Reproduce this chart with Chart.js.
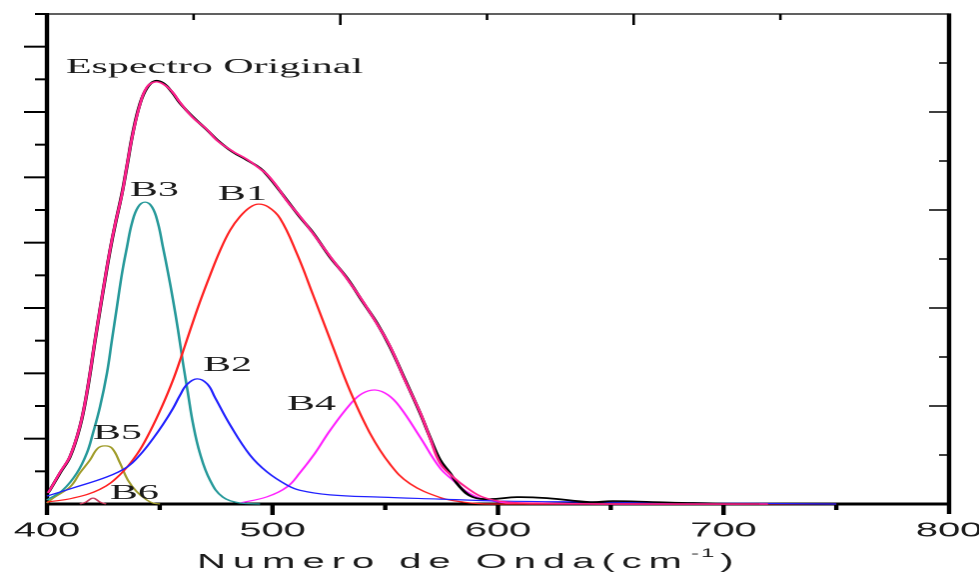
<!DOCTYPE html>
<html>
<head>
<meta charset="utf-8">
<title>Espectro Original</title>
<script src="https://cdn.jsdelivr.net/npm/chart.js@4.4.1/dist/chart.umd.min.js"></script>
<style>
  html, body { margin: 0; padding: 0; background: #fff; overflow: hidden; }
  /* the plot is laid out on a half-width canvas and widened 2x */
  #wrap { position: absolute; left: 0; top: 0; width: 490px; height: 573px;
          transform: scaleX(1.99796); transform-origin: 0 0; }
</style>
</head>
<body>
<div id="wrap"><canvas id="c"></canvas></div>
<script>
// ---- data: wavenumber (cm-1) and intensity for each curve ----
const xTickValues = [400, 500, 600, 700, 800];
const xTickLabels = ['400', '500', '600', '700', '800'];

const originalWn = [400.4, 401.3, 405.8, 410.2, 414.6, 417.7, 421.3, 423.5, 425.7, 427.9, 430.2, 433.3, 435.5, 438.1, 441.2, 444.3, 447.9, 451.4, 455.4, 459.0, 464.7, 471.0, 475.4, 482.5, 488.7, 494.5, 497.6, 502.0, 506.4, 512.2, 518.0, 525.5, 533.0, 540.1, 546.3, 552.1, 558.8, 565.4, 569.8, 574.3, 578.7, 583.1, 588.9, 596.5, 608.4, 621.7, 640.8, 651.0, 668.7, 686.5, 716.0];
const originalY  = [0.034, 0.043, 0.095, 0.144, 0.236, 0.340, 0.499, 0.594, 0.686, 0.774, 0.854, 0.952, 1.035, 1.136, 1.224, 1.273, 1.295, 1.289, 1.261, 1.227, 1.185, 1.145, 1.115, 1.077, 1.053, 1.028, 1.007, 0.970, 0.930, 0.878, 0.830, 0.756, 0.692, 0.618, 0.554, 0.481, 0.380, 0.279, 0.205, 0.135, 0.095, 0.052, 0.021, 0.015, 0.021, 0.018, 0.006, 0.009, 0.006, 0.003, 0.000];

const fitWn = [400.4, 401.3, 405.8, 410.2, 414.6, 417.7, 421.3, 423.5, 425.7, 427.9, 430.2, 433.3, 435.5, 438.1, 441.2, 444.3, 447.9, 451.4, 455.4, 459.0, 464.7, 471.0, 475.4, 482.5, 488.7, 494.5, 497.6, 502.0, 506.4, 512.2, 518.0, 525.5, 533.0, 540.1, 546.3, 552.1, 558.8, 565.4, 569.8, 574.3, 580.0, 586.3, 593.3, 604.0, 615.5, 645.0, 719.7];
const fitY  = [0.034, 0.043, 0.097, 0.146, 0.238, 0.342, 0.501, 0.596, 0.688, 0.776, 0.856, 0.950, 1.037, 1.134, 1.222, 1.276, 1.292, 1.286, 1.263, 1.229, 1.183, 1.146, 1.113, 1.079, 1.055, 1.026, 1.009, 0.972, 0.928, 0.880, 0.828, 0.758, 0.690, 0.620, 0.552, 0.483, 0.378, 0.281, 0.203, 0.125, 0.083, 0.049, 0.021, 0.006, 0.003, 0.000, 0.000];

const b1Wn = [400.0, 411.5, 423.5, 432.4, 439.9, 445.7, 451.4, 455.9, 459.0, 463.4, 467.8, 472.3, 476.7, 481.2, 485.6, 490.0, 493.6, 498.0, 503.3, 510.9, 518.0, 526.8, 534.4, 543.2, 552.1, 561.0, 574.3, 584.5, 596.5, 750.0];
const b1Y  = [0.006, 0.018, 0.045, 0.090, 0.152, 0.222, 0.305, 0.380, 0.440, 0.530, 0.618, 0.700, 0.775, 0.838, 0.880, 0.908, 0.918, 0.910, 0.875, 0.765, 0.640, 0.481, 0.346, 0.217, 0.122, 0.062, 0.020, 0.006, 0.000, 0.000];

const b2Wn = [400.0, 411.5, 426.6, 435.5, 441.2, 447.0, 451.4, 455.9, 459.0, 462.1, 466.5, 471.0, 474.5, 481.2, 490.0, 497.6, 506.4, 512.2, 525.5, 547.7, 574.3, 600.9, 645.2, 689.6, 750.0];
const b2Y  = [0.024, 0.049, 0.083, 0.113, 0.150, 0.200, 0.243, 0.293, 0.333, 0.366, 0.383, 0.368, 0.326, 0.242, 0.150, 0.098, 0.058, 0.042, 0.028, 0.021, 0.015, 0.009, 0.006, 0.003, 0.000];

const b3Wn = [400.0, 407.1, 413.3, 417.7, 420.4, 423.5, 426.6, 428.8, 431.0, 433.3, 435.5, 437.7, 440.4, 443.5, 446.6, 449.2, 451.4, 453.7, 455.9, 458.1, 460.3, 462.5, 464.7, 467.8, 472.3, 478.0, 485.6, 494.5];
const b3Y  = [0.012, 0.043, 0.095, 0.156, 0.217, 0.297, 0.401, 0.502, 0.603, 0.707, 0.787, 0.860, 0.909, 0.924, 0.909, 0.860, 0.787, 0.707, 0.624, 0.533, 0.432, 0.340, 0.248, 0.156, 0.073, 0.021, 0.003, 0.000];

const b4Wn = [485.6, 497.6, 506.4, 512.2, 518.8, 525.5, 534.4, 539.7, 545.5, 551.2, 556.5, 565.4, 574.3, 580.0, 586.3, 593.3, 604.0, 614.2, 719.7];
const b4Y  = [0.003, 0.022, 0.052, 0.096, 0.155, 0.225, 0.305, 0.338, 0.349, 0.334, 0.297, 0.205, 0.110, 0.073, 0.037, 0.015, 0.003, 0.000, 0.000];

const b5Wn = [400.0, 402.7, 410.2, 414.6, 419.1, 422.6, 425.7, 428.8, 432.4, 435.9, 439.9, 444.3, 447.0, 450.1];
const b5Y  = [0.003, 0.018, 0.052, 0.095, 0.135, 0.171, 0.178, 0.171, 0.125, 0.073, 0.037, 0.012, 0.003, 0.000];

const b6Wn = [414.6, 417.3, 420.4, 423.5, 426.2];
const b6Y  = [0.000, 0.006, 0.018, 0.006, 0.000];

// ---- chart ----
const pairs = (xs, ys) => xs.map((x, i) => ({ x: x, y: ys[i] }));

function curve(label, xs, ys, color, width, order) {
  return {
    label: label,
    data: pairs(xs, ys),
    borderColor: color,
    borderWidth: width,
    pointRadius: 0,
    fill: false,
    tension: 0.4,
    clip: 6,
    order: order
  };
}

const datasets = [
  curve('Ajuste', fitWn, fitY, '#ff1f8c', 1.4, 0),
  curve('Espectro Original', originalWn, originalY, '#000000', 1.7, 1),
  curve('B1', b1Wn, b1Y, '#ff2121', 1.2, 3),
  curve('B2', b2Wn, b2Y, '#2020ff', 1.2, 2),
  curve('B3', b3Wn, b3Y, '#26999a', 1.3, 4),
  curve('B4', b4Wn, b4Y, '#ff20ff', 1.2, 5),
  curve('B5', b5Wn, b5Y, '#a09c2a', 1.2, 6),
  curve('B6', b6Wn, b6Y, '#c83a5c', 1.2, 7)
];

// text placed in data space (wavenumber, intensity), left/baseline anchored
const curveNotes = [
  { text: 'Espectro Original', x: 408.4, y: 1.319 },
  { text: 'B3', x: 436.8, y: 0.943 },
  { text: 'B1', x: 475.8, y: 0.930 },
  { text: 'B2', x: 469.2, y: 0.407 },
  { text: 'B4', x: 506.4, y: 0.288 },
  { text: 'B5', x: 420.4, y: 0.199 },
  { text: 'B6', x: 427.9, y: 0.015 }
];

const framePlugin = {
  id: 'frame',
  beforeDatasetsDraw(chart) {
    const { ctx, chartArea: a, scales } = chart;
    const x = scales.x, y = scales.y, yR = scales.yR, xTop = scales.xTop;
    ctx.save();
    ctx.strokeStyle = '#000';
    ctx.lineCap = 'butt';

    // top border with inward ticks
    ctx.lineWidth = 1.3;
    ctx.beginPath(); ctx.moveTo(a.left - 6, a.top); ctx.lineTo(a.right, a.top); ctx.stroke();
    for (let k = 1; k <= 5; k++) {
      const px = xTop.getPixelForValue(k);
      const len = k % 2 === 0 ? 11 : 6;
      ctx.beginPath(); ctx.moveTo(px, a.top); ctx.lineTo(px, a.top + len); ctx.stroke();
    }

    // left axis with outward ticks
    ctx.lineWidth = 2.2;
    ctx.beginPath(); ctx.moveTo(a.left, a.top - 1); ctx.lineTo(a.left, a.bottom + 11); ctx.stroke();
    ctx.lineWidth = 2;
    for (let k = 1; k <= 15; k++) {
      const py = y.getPixelForValue(k / 10);
      const len = k % 2 === 0 ? 11.5 : 6;
      ctx.beginPath(); ctx.moveTo(a.left - len, py); ctx.lineTo(a.left, py); ctx.stroke();
    }

    // right axis with inward ticks
    ctx.lineWidth = 2.2;
    ctx.beginPath(); ctx.moveTo(a.right, a.top - 0.6); ctx.lineTo(a.right, a.bottom + 10); ctx.stroke();
    ctx.lineWidth = 1.5;
    for (let k = 1; k <= 9; k++) {
      const py = yR.getPixelForValue(k);
      const len = k % 2 === 0 ? 10 : 5;
      ctx.beginPath(); ctx.moveTo(a.right - len, py); ctx.lineTo(a.right, py); ctx.stroke();
    }

    // bottom axis with outward ticks
    ctx.lineWidth = 3;
    ctx.beginPath(); ctx.moveTo(a.left, a.bottom); ctx.lineTo(a.right, a.bottom); ctx.stroke();
    ctx.lineWidth = 2.2;
    for (let v = 450; v < 800; v += 50) {
      const px = x.getPixelForValue(v);
      const len = v % 100 === 0 ? 11 : 6;
      ctx.beginPath(); ctx.moveTo(px, a.bottom); ctx.lineTo(px, a.bottom + len); ctx.stroke();
    }
    ctx.restore();
  },
  afterDatasetsDraw(chart) {
    const { ctx, scales } = chart;
    const x = scales.x, y = scales.y;
    ctx.save();
    ctx.fillStyle = '#1b1b1b';
    ctx.textAlign = 'left';
    ctx.textBaseline = 'alphabetic';
    ctx.font = '21px "Liberation Serif", "Times New Roman", serif';
    curveNotes.forEach(n => {
      ctx.fillText(n.text, x.getPixelForValue(n.x), y.getPixelForValue(n.y));
    });

    // axis title with a superscript exponent
    const main = 'Numero de Onda(cm';
    const base = 568;
    let px = 98.6;
    ctx.font = '20px "Liberation Sans", Arial, sans-serif';
    if ('letterSpacing' in ctx) ctx.letterSpacing = '3.5px';
    ctx.fillText(main, px, base);
    px += ctx.measureText(main).width + 1;
    ctx.font = '12px "Liberation Sans", Arial, sans-serif';
    if ('letterSpacing' in ctx) ctx.letterSpacing = '1px';
    ctx.fillText('-1', px, base - 11);
    px += ctx.measureText('-1').width + 2;
    ctx.font = '20px "Liberation Sans", Arial, sans-serif';
    ctx.fillText(')', px, base);
    ctx.restore();
  }
};

new Chart(document.getElementById('c'), {
  type: 'line',
  data: { datasets: datasets },
  options: {
    responsive: true,
    maintainAspectRatio: false,
    animation: false,
    devicePixelRatio: 2,
    layout: { padding: { left: 23.5, right: 15, top: 14, bottom: 0 } },
    plugins: { legend: { display: false }, tooltip: { enabled: false } },
    scales: {
      x: {
        type: 'linear', min: 400, max: 800, position: 'bottom',
        afterBuildTicks: s => { s.ticks = xTickValues.map(v => ({ value: v })); },
        afterFit: s => { s.height = 69; s.paddingLeft = 0; s.paddingRight = 0; },
        grid: { display: false, drawTicks: false },
        border: { display: false },
        ticks: {
          padding: 15, color: '#1b1b1b', maxRotation: 0, autoSkip: false,
          font: { family: '"Liberation Sans", Arial, sans-serif', size: 20 },
          callback: (v, i) => xTickLabels[i]
        }
      },
      xTop: { type: 'linear', min: 0, max: 6.15, position: 'top', display: false },
      y: { type: 'linear', min: 0, max: 1.5, position: 'left', display: false },
      yR: { type: 'linear', min: 0, max: 10, position: 'right', display: false }
    }
  },
  plugins: [framePlugin]
});
</script>
</body>
</html>
